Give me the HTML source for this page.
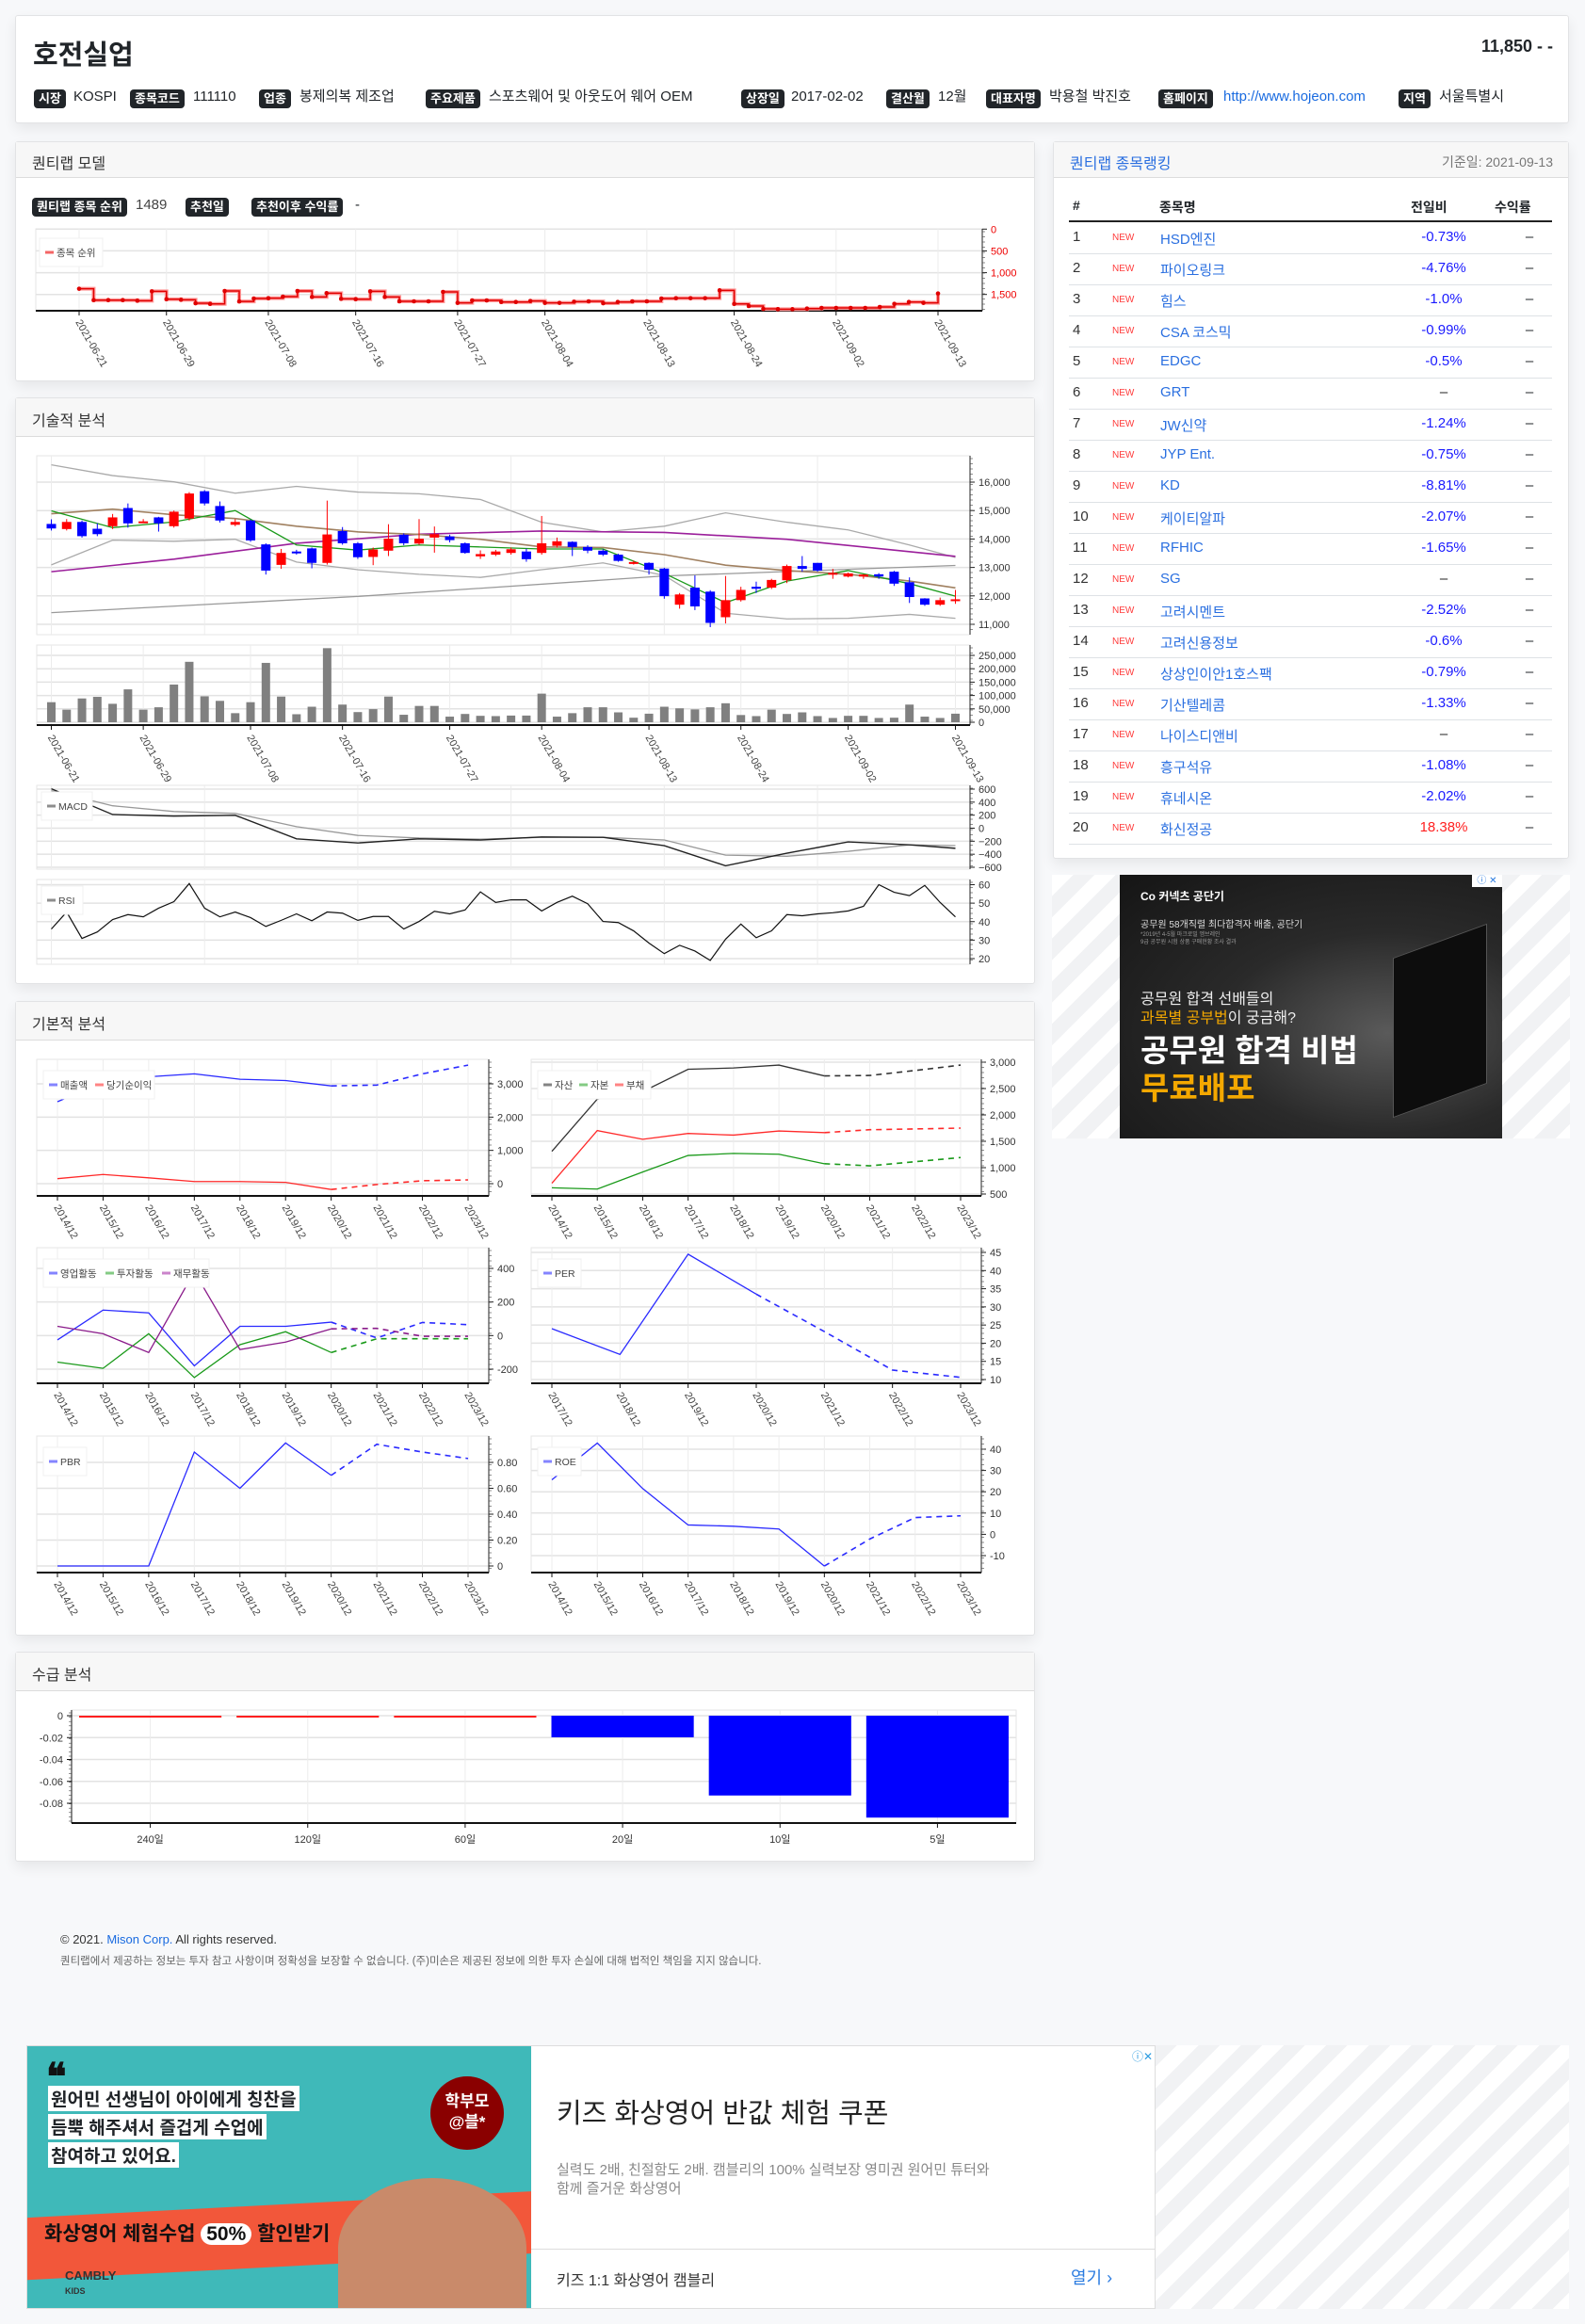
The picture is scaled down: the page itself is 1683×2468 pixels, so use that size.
<!DOCTYPE html>
<html lang="ko"><head><meta charset="utf-8"><title>호전실업</title>
<style>
*{box-sizing:border-box;margin:0;padding:0}
body{width:1683px;height:2468px;overflow:hidden;background:#f7f8fa;font-family:"Liberation Sans","Noto Sans CJK KR",sans-serif;color:#212529;position:relative}
.card{position:absolute;background:#fff;border:1px solid #e2e3e5;border-radius:3px;box-shadow:0 6px 14px rgba(0,0,0,.07)}
.chd{position:absolute;left:0;right:0;top:0;background:#f7f7f7;border-bottom:1px solid #dcdcdc}
.chd span{position:absolute;left:17px;font-size:16px;color:#333}
.ab{position:absolute;white-space:nowrap}
.bd{position:absolute;background:#212529;color:#fff;font-size:13px;font-weight:bold;padding:2px 5px;border-radius:4px;line-height:16px;white-space:nowrap}
.tx{position:absolute;font-size:15px;white-space:nowrap;line-height:20px}
.row{position:absolute;left:16px;right:17px;height:33px;border-bottom:1px solid #dee2e6;font-size:15px}
.row span{position:absolute;top:6px;white-space:nowrap}
.stripe{position:absolute;background:repeating-linear-gradient(135deg,#ffffff 0 16px,#f1f2f4 16px 32px)}
svg text{font-family:"Liberation Sans","Noto Sans CJK KR",sans-serif}
</style></head><body>

<div class="card" style="left:16px;top:16px;width:1650px;height:115px">
 <div class="ab" style="left:18px;top:18px;font-size:29px;font-weight:bold">호전실업</div>
 <div class="ab" style="right:16px;top:22px;font-size:18px;font-weight:bold">11,850 - -</div>
 <div class="bd" style="left:19px;top:78px">시장</div><div class="tx" style="left:61px;top:76px">KOSPI</div>
 <div class="bd" style="left:121px;top:78px">종목코드</div><div class="tx" style="left:188px;top:76px">111110</div>
 <div class="bd" style="left:258px;top:78px">업종</div><div class="tx" style="left:301px;top:76px">봉제의복 제조업</div>
 <div class="bd" style="left:435px;top:78px">주요제품</div><div class="tx" style="left:502px;top:76px">스포츠웨어 및 아웃도어 웨어 OEM</div>
 <div class="bd" style="left:770px;top:78px">상장일</div><div class="tx" style="left:823px;top:76px">2017-02-02</div>
 <div class="bd" style="left:924px;top:78px">결산월</div><div class="tx" style="left:979px;top:76px">12월</div>
 <div class="bd" style="left:1030px;top:78px">대표자명</div><div class="tx" style="left:1097px;top:76px">박용철 박진호</div>
 <div class="bd" style="left:1213px;top:78px">홈페이지</div><a class="tx" style="left:1282px;top:76px;color:#1a6be0;text-decoration:none">http://www.hojeon.com</a>
 <div class="bd" style="left:1468px;top:78px">지역</div><div class="tx" style="left:1511px;top:76px">서울특별시</div>
</div>

<div class="card" style="left:16px;top:150px;width:1083px;height:255px">
 <div class="chd" style="height:38px"><span style="top:9px">퀀티랩 모델</span></div>
 <div class="bd" style="left:17px;top:59px">퀀티랩 종목 순위</div><div class="tx" style="left:127px;top:57px;color:#444">1489</div>
 <div class="bd" style="left:180px;top:59px">추천일</div>
 <div class="bd" style="left:250px;top:59px">추천이후 수익률</div><div class="tx" style="left:360px;top:57px">-</div>
</div>

<div class="card" style="left:1118px;top:150px;width:548px;height:762px">
 <div class="chd" style="height:38px"><span style="top:9px;color:#2a6fe0">퀀티랩 종목랭킹</span><div class="ab" style="right:16px;top:11px;font-size:14px;color:#777">기준일: 2021-09-13</div></div>
 <div class="row" style="top:55px;height:30px;border-bottom:2px solid #222;font-weight:bold;font-size:14px">
  <span style="left:4px;top:4px">#</span><span style="left:96px;top:4px">종목명</span><span style="left:363px;top:4px">전일비</span><span style="left:452px;top:4px">수익률</span></div>
 <div id="rows"></div>
</div>

<div class="stripe" style="left:1117px;top:929px;width:550px;height:280px"></div>
<div class="ab" style="left:1189px;top:929px;width:406px;height:280px;background:radial-gradient(ellipse at 70% 60%,#5a5a5a 0,#2a2a2a 45%,#151515 100%);overflow:hidden">
 <div class="ab" style="left:290px;top:70px;width:100px;height:170px;background:#0d0d0d;transform:skewY(-20deg);border:1px solid #555"></div>
 <div class="ab" style="left:22px;top:14px;color:#fff;font-size:12px;font-weight:bold">Co 커넥츠 공단기</div>
 <div class="ab" style="left:22px;top:44px;color:#ddd;font-size:10px">공무원 58개직렬 최다합격자 배출, 공단기</div>
 <div class="ab" style="left:22px;top:60px;color:#999;font-size:6px;line-height:8px">*2019년 4-5월 마크로밀 엠브레인<br>9급 공무원 시험 상품 구매현황 조사 결과</div>
 <div class="ab" style="left:22px;top:118px;color:#eee;font-size:16px">공무원 합격 선배들의</div>
 <div class="ab" style="left:22px;top:138px;color:#eee;font-size:16px"><span style="color:#f4a800">과목별 공부법</span>이 궁금해?</div>
 <div class="ab" style="left:22px;top:160px;color:#fff;font-size:33px;font-weight:bold">공무원 합격 비법</div>
 <div class="ab" style="left:22px;top:200px;color:#f4a800;font-size:33px;font-weight:bold">무료배포</div>
 <div class="ab" style="right:0;top:0;width:32px;height:13px;background:#fff;color:#2a7be0;font-size:10px;text-align:center;line-height:13px">ⓘ ✕</div>
</div>

<div class="card" style="left:16px;top:422px;width:1083px;height:623px">
 <div class="chd" style="height:41px"><span style="top:10px">기술적 분석</span></div>
</div>
<div class="card" style="left:16px;top:1063px;width:1083px;height:674px">
 <div class="chd" style="height:41px"><span style="top:10px">기본적 분석</span></div>
</div>
<div class="card" style="left:16px;top:1754px;width:1083px;height:223px">
 <div class="chd" style="height:41px"><span style="top:10px">수급 분석</span></div>
</div>

<div class="ab" style="left:64px;top:2052px;font-size:13px;color:#333">© 2021. <a style="color:#1a6be0">Mison Corp.</a> All rights reserved.</div>
<div class="ab" style="left:64px;top:2074px;font-size:11.5px;color:#666">퀀티랩에서 제공하는 정보는 투자 참고 사항이며 정확성을 보장할 수 없습니다. (주)미손은 제공된 정보에 의한 투자 손실에 대해 법적인 책임을 지지 않습니다.</div>

<div class="stripe" style="left:28px;top:2172px;width:1638px;height:280px"></div>
<div class="ab" style="left:28px;top:2172px;width:1199px;height:280px;background:#fff;border:1px solid #ddd;overflow:hidden">
 <div class="ab" style="left:0;top:0;width:535px;height:280px;background:#3fb9b9;overflow:hidden">
  <div class="ab" style="left:20px;top:10px;font-size:40px;font-weight:bold;color:#111">❝</div>
  <div class="ab" style="left:22px;top:42px;background:#fff;font-size:19px;font-weight:bold;padding:0 3px">원어민 선생님이 아이에게 칭찬을</div>
  <div class="ab" style="left:22px;top:72px;background:#fff;font-size:19px;font-weight:bold;padding:0 3px">듬뿍 해주셔서 즐겁게 수업에</div>
  <div class="ab" style="left:22px;top:102px;background:#fff;font-size:19px;font-weight:bold;padding:0 3px">참여하고 있어요.</div>
  <div class="ab" style="left:428px;top:32px;width:78px;height:78px;border-radius:50%;background:#8a0000;color:#fff;font-size:17px;font-weight:bold;text-align:center;padding-top:16px;line-height:22px">학부모<br>@블*</div>
  <div class="ab" style="left:-10px;top:168px;width:560px;height:66px;background:#f2573a;transform:rotate(-3deg)"></div>
  <div class="ab" style="left:18px;top:183px;color:#111;font-size:21px;font-weight:bold">화상영어 체험수업 <span style="background:#fff;border-radius:20px;padding:0 6px">50%</span> 할인받기</div>
  <div class="ab" style="left:330px;top:140px;width:200px;height:150px;border-radius:50% 50% 0 0;background:#c98a6a"></div>
  <div class="ab" style="left:40px;top:236px;color:#333;font-size:13px;font-weight:bold">CAMBLY<br><span style="font-size:9px">KIDS</span></div>
 </div>
 <div class="ab" style="left:562px;top:48px;font-size:29px;color:#222">키즈 화상영어 반값 체험 쿠폰</div>
 <div class="ab" style="left:562px;top:122px;font-size:15px;color:#888;line-height:20px">실력도 2배, 친절함도 2배. 캠블리의 100% 실력보장 영미권 원어민 튜터와<br>함께 즐거운 화상영어</div>
 <div class="ab" style="left:535px;top:215px;width:664px;height:1px;background:#ddd"></div>
 <div class="ab" style="left:562px;top:235px;font-size:16px;color:#333">키즈 1:1 화상영어 캠블리</div>
 <div class="ab" style="left:1108px;top:232px;font-size:18px;color:#2a7be0">열기 ›</div>
 <div class="ab" style="right:2px;top:2px;font-size:12px;color:#2a9be0">ⓘ✕</div>
</div>

<svg id="charts" width="1683" height="2468" style="position:absolute;left:0;top:0;pointer-events:none"></svg>

<script>
// ---------- data ----------
const rankNames=['HSD엔진','파이오링크','힘스','CSA 코스믹','EDGC','GRT','JW신약','JYP Ent.','KD','케이티알파','RFHIC','SG','고려시멘트','고려신용정보','상상인이안1호스팩','기산텔레콤','나이스디앤비','흥구석유','휴네시온','화신정공'];
const rankChange=['-0.73%','-4.76%','-1.0%','-0.99%','-0.5%','–','-1.24%','-0.75%','-8.81%','-2.07%','-1.65%','–','-2.52%','-0.6%','-0.79%','-1.33%','–','-1.08%','-2.02%','18.38%'];

const dateLabels=['2021-06-21','2021-06-29','2021-07-08','2021-07-16','2021-07-27','2021-08-04','2021-08-13','2021-08-24','2021-09-02','2021-09-13'];
const dateIdx=[0,6,13,19,26,32,39,45,52,59];
const quantRank=[1370,1630,1630,1630,1644,1428,1608,1622,1702,1716,1420,1660,1593,1586,1550,1420,1557,1471,1601,1608,1428,1557,1658,1658,1658,1442,1694,1637,1637,1673,1673,1651,1694,1694,1666,1658,1702,1673,1658,1658,1593,1586,1586,1586,1406,1716,1766,1831,1838,1838,1824,1810,1810,1810,1810,1788,1716,1673,1694,1478];
const rankTicks=[0,500,1000,1500];

const candleOpen=[14530,14350,14600,14360,14450,15090,14600,14760,14450,14720,15680,15160,14500,14650,13810,13090,13560,13670,13160,14280,13850,13370,13590,14150,13840,14050,14090,13850,13390,13450,13510,13560,13510,13760,13900,13720,13590,13450,13150,13160,12960,11690,12290,12150,11250,11850,12320,12290,12550,13050,13160,12790,12680,12680,12760,12850,12480,11910,11690,11850];
const candleClose=[14370,14600,14100,14170,14760,14550,14620,14550,14960,15600,15250,14650,14600,13950,12890,13510,13510,13160,14160,13850,13360,13630,14010,13850,14010,14170,13960,13510,13470,13560,13640,13290,13850,13920,13720,13590,13450,13230,13190,12920,11990,12050,11630,11050,11850,12210,12250,12560,13050,12950,12890,12810,12790,12750,12680,12430,11960,11690,11850,11880];
const candleHigh=[14690,14700,14650,14550,14880,15250,14700,14780,15000,15650,15720,15320,14700,14680,13850,13650,13620,13700,15350,14420,13890,13700,14520,14200,14700,14440,14150,13880,13600,13620,13700,13660,14810,14050,13920,13780,13640,13480,13240,13180,12990,12100,12720,12200,12700,12320,12500,12600,13100,13400,13160,12950,12820,12760,12800,12880,12650,11920,11940,12210];
const candleLow=[14300,14300,14050,14100,14350,14400,14560,14260,14400,14650,15180,14580,14450,13900,12750,12950,13450,12970,13100,13800,13300,13080,13400,13780,13800,13520,13880,13480,13300,13400,13450,13200,13450,13700,13400,13500,13400,13200,13100,12750,11900,11550,11500,10900,11030,11800,12100,12240,12450,12850,12850,12600,12650,12600,12600,12350,11750,11650,11650,11720];
const priceTicks=[11000,12000,13000,14000,15000,16000];
const lineIdx=[0,4,8,12,16,20,24,28,32,36,40,44,48,52,56,59];
const ma5=[14990,14400,14600,15000,13790,13610,13790,13720,13650,13650,12790,11760,12520,12890,12430,11990];
const ma20=[14890,15050,14850,14720,14450,14250,14160,13990,13720,13700,13450,13080,12890,12760,12520,12280];
const bandUpper=[16610,16230,16010,15610,15850,15650,15590,15390,14590,14250,14450,14920,14590,14320,13790,13350];
const bandLower=[13090,13960,13920,13990,13190,12920,12760,12650,12920,13160,12720,11390,11190,11210,11350,11210];
const ma60Idx=[0,8,16,24,32,40,48,59];
const ma60=[12850,13290,13850,14170,14280,14230,13990,13390];
const ma120Idx=[0,20,40,59];
const ma120=[11410,11980,12700,13070];
const volume=[75000,47000,89000,95000,69000,123000,47000,56000,141000,226000,97000,80000,34000,75000,222000,96000,30000,58000,277000,66000,38000,49000,96000,28000,61000,61000,21000,31000,24000,23000,25000,25000,107000,21000,34000,56000,56000,37000,17000,32000,58000,52000,48000,56000,71000,27000,23000,47000,31000,37000,23000,16000,24000,24000,16000,17000,66000,21000,16000,32000];
const volTicks=[0,50000,100000,150000,200000,250000];
const macd=[606,210,186,198,-163,-227,-163,-181,-134,-140,-268,-577,-384,-210,-256,-309];
const macdSignal=[577,344,256,227,23,-111,-151,-169,-140,-140,-181,-414,-431,-355,-256,-268];
const macdTicks=[-600,-400,-200,0,200,400,600];
const rsi=[36.0,45.2,30.9,34.4,41.1,43.8,42.6,47.3,50.8,60.6,47.3,42.6,45.2,42.2,37.4,40.7,44.2,40.5,45.2,44.6,40.7,42.8,42.8,36.0,40.1,45.6,44.2,46.3,56.1,50.4,51.8,51.8,45.8,50.4,53.8,49.7,40.1,39.5,35.0,28.4,22.7,27.2,24.1,19.0,30.5,38.7,31.3,35.0,43.8,43.2,44.2,44.8,45.8,48.3,60.0,55.9,54.1,59.6,50.4,42.6];
const rsiTicks=[20,30,40,50,60];

const years10=['2014/12','2015/12','2016/12','2017/12','2018/12','2019/12','2020/12','2021/12','2022/12','2023/12'];
const years7=['2017/12','2018/12','2019/12','2020/12','2021/12','2022/12','2023/12'];
const revenue=[2463,3050,3213,3300,3138,3100,2938,2963,3300,3563];
const netIncome=[150,275,175,63,63,38,-175,-25,88,113];
const assets=[1310,2300,2442,2866,2890,2945,2740,2748,2843,2945];
const equity=[618,594,917,1231,1270,1255,1074,1035,1113,1192];
const debt=[704,1703,1538,1648,1617,1695,1664,1719,1734,1750];
const cfOperating=[-26,152,135,-180,55,55,80,-14,78,65];
const cfInvesting=[-158,-195,11,-250,-54,23,-101,-19,-19,-19];
const cfFinancing=[55,11,-101,380,-83,-39,40,43,-4,-4];
const per=[24.0,16.9,44.5,33.5,23.2,12.6,10.6];
const pbr=[0,0,0,0.88,0.60,0.95,0.70,0.94,0.88,0.83];
const roe=[25.6,42.9,21.5,4.4,3.8,2.5,-14.9,-2.2,7.9,8.7];

const supplyCats=['240일','120일','60일','20일','10일','5일'];
const supplyVals=[0,0,0,-0.0197,-0.0729,-0.0931];
const supplyTicks=[0,-0.02,-0.04,-0.06,-0.08];

// ---------- helpers ----------
const NS='http://www.w3.org/2000/svg';
const svg=document.getElementById('charts');
function mk(tag,attrs,parent){const e=document.createElementNS(NS,tag);for(const k in attrs)e.setAttribute(k,attrs[k]);(parent||svg).appendChild(e);return e;}
function lin(d0,d1,r0,r1){return v=>r0+(v-d0)*(r1-r0)/(d1-d0);}
function fmt(v){return v.toLocaleString('en-US');}
function frame(x0,y0,x1,y1,name){
  const r=mk('rect',{x:x0,y:y0,width:x1-x0,height:y1-y0,fill:'none',stroke:'#e6e6e6'});
  
  
}
function hgrid(x0,x1,y,name){
  const l=mk('line',{x1:x0,x2:x1,y1:y,y2:y,stroke:'#e3e3e3','stroke-width':1.5});
  
  
}
function vgrid(x,y0,y1,name){
  const l=mk('line',{x1:x,x2:x,y1:y0,y2:y1,stroke:'#ececec'});
  
  
}
function rightAxis(x,y0,y1,ticks,sy,labels,color,name){
  const a=mk('line',{x1:x,x2:x,y1:y0,y2:y1,stroke:'#222'});
  
  
  ticks.forEach((t,i)=>{
    const tk=mk('line',{x1:x,x2:x+5,y1:sy(t),y2:sy(t),stroke:'#222'});
    
    
    const tx=mk('text',{x:x+9,y:sy(t)+4,'font-size':11,fill:color||'#333'});
    tx.textContent=labels[i];
    
    
  });
  for(let y=y0+3;y<y1;y+=5.5){
    const m=mk('line',{x1:x,x2:x+3,y1:y,y2:y,stroke:'#444','stroke-width':0.6});
    
    
  }
}
function rotLabels(xs,labels,y,name){
  labels.forEach((lb,i)=>{
    const t=mk('text',{x:xs[i]-4,y:y,'font-size':11,fill:'#444',transform:`rotate(60 ${xs[i]-4} ${y})`});
    t.textContent=lb;
    
    
  });
}
function polyline(pts,color,width,dash,name){
  const p=mk('polyline',{points:pts.map(p=>p.join(',')).join(' '),fill:'none',stroke:color,'stroke-width':width||1.3,'stroke-dasharray':dash||'none'});
  
  
}
function legend(x,y,w,items,name){
  const g=mk('g',{});
  
  
  mk('rect',{x:x,y:y,width:w,height:30,fill:'#fff',stroke:'#f0f0f0'},g);
  let cx=x+6;
  items.forEach(it=>{
    mk('line',{x1:cx,x2:cx+9,y1:y+15,y2:y+15,stroke:it[1],'stroke-width':3,opacity:0.6},g);
    const t=mk('text',{x:cx+12,y:y+19,'font-size':10.5,fill:'#444'},g);
    t.textContent=it[0];
    cx+=16+it[0].length*(/[가-힣]/.test(it[0])?11:7.5);
  });
}

// ---------- ranking rows ----------
const rows=document.getElementById('rows');
rankNames.forEach((n,i)=>{
  const r=document.createElement('div');
  r.className='row';
  r.style.top=(86+33*i)+'px';
  
  
  const col=rankChange[i].startsWith('-')?'#1a1aff':(rankChange[i]==='–'?'#222':'#ff2020');
  r.innerHTML=`<span style="left:4px;color:#333">${i+1}</span><span style="left:46px;top:10px;font-size:10px;color:#ff3b3b">NEW</span><span style="left:97px;color:#2a6fe0">${n}</span><span style="left:398px;transform:translateX(-50%);color:${col}">${rankChange[i]}</span><span style="left:489px;transform:translateX(-50%)">–</span>`;
  rows.appendChild(r);
});

// ---------- quantilab rank chart ----------
(function(){
  const x0=38,x1=1043,y0=243,y1=330;
  const sx=lin(0,59,84,996), sy=lin(0,1500,243.3,312.7);
  frame(x0,y0,x1,y1,'rank-chart-frame');
  rankTicks.forEach(t=>hgrid(x0,x1,sy(t),'rank-gridline'));
  dateIdx.forEach(i=>vgrid(sx(i),y0,y1,'rank-date-gridline'));
  const ax=mk('line',{x1:x0,x2:x1,y1:y1,y2:y1,stroke:'#111','stroke-width':2});
  
  
  dateIdx.forEach(i=>{const t=mk('line',{x1:sx(i),x2:sx(i),y1:y1,y2:y1+5,stroke:'#111'});});
  rightAxis(x1,y0,y1,rankTicks,sy,rankTicks.map(fmt),'#e00','rank-y-axis');
  const pts=[];
  quantRank.forEach((v,i)=>{if(i>0)pts.push([sx(i),sy(quantRank[i-1])]);pts.push([sx(i),sy(v)]);});
  polyline(pts,'#ff9a9a',4,null,'rank-step-shadow');
  polyline(pts,'#e00000',1.5,null,'rank-step-line');
  quantRank.forEach((v,i)=>{
    const c=mk('circle',{cx:sx(i),cy:sy(v),r:2.3,fill:'#e00000'});
    
    
  });
  legend(42,253,67,[['종목 순위','#e00']],'rank-legend');
  rotLabels(dateIdx.map(sx),dateLabels,y1+12,'rank-date-label');
})();

// ---------- technical analysis ----------
(function(){
  const x0=39,x1=1030;
  const sx=lin(0,59,54.5,1014.5);
  const py0=484,py1=674, sy=lin(16000,11000,512,663);
  frame(x0,py0,x1,py1,'price-chart-frame');
  priceTicks.forEach(t=>hgrid(x0,x1,sy(t),'price-gridline'));
  [0,10,20,30,40,50].forEach(i=>vgrid(sx(i),py0,py1,'price-vgridline'));
  rightAxis(x1,py0,py1,priceTicks,sy,priceTicks.map(fmt),'#333','price-y-axis');
  polyline(lineIdx.map((d,k)=>[sx(d),sy(bandUpper[k])]),'#aaa',1.3,null,'bollinger-upper');
  polyline(lineIdx.map((d,k)=>[sx(d),sy(bandLower[k])]),'#aaa',1.3,null,'bollinger-lower');
  polyline(ma120Idx.map((d,k)=>[sx(d),sy(ma120[k])]),'#999',1.3,null,'ma120-line');
  polyline(ma60Idx.map((d,k)=>[sx(d),sy(ma60[k])]),'#9b1f9b',1.6,null,'ma60-line');
  polyline(lineIdx.map((d,k)=>[sx(d),sy(ma20[k])]),'#a08060',1.6,null,'ma20-line');
  polyline(lineIdx.map((d,k)=>[sx(d),sy(ma5[k])]),'#1a9a1a',1.3,null,'ma5-line');
  candleOpen.forEach((o,i)=>{
    const c=candleClose[i], up=c>=o, col=up?'#ff0000':'#0000ff';
    const w=mk('line',{x1:sx(i),x2:sx(i),y1:sy(candleHigh[i]),y2:sy(candleLow[i]),stroke:col,'stroke-width':1});
    
    
    const top=sy(Math.max(o,c)), h=Math.max(2,sy(Math.min(o,c))-top);
    const b=mk('rect',{x:sx(i)-5,y:top,width:10,height:h,fill:col});
    
    
  });
  const vy0=685,vy1=770, svy=lin(0,250000,767,696);
  frame(x0,vy0,x1,vy1,'volume-chart-frame');
  volTicks.forEach(t=>hgrid(x0,x1,svy(t),'volume-gridline'));
  dateIdx.forEach(i=>vgrid(sx(i),vy0,vy1,'volume-vgridline'));
  rightAxis(x1,vy0,vy1,volTicks,svy,volTicks.map(fmt),'#333','volume-y-axis');
  volume.forEach((v,i)=>{
    const b=mk('rect',{x:sx(i)-4.5,y:svy(v),width:9,height:svy(0)-svy(v),fill:'#808080'});
    
    
  });
  const vax=mk('line',{x1:x0,x2:x1,y1:vy1,y2:vy1,stroke:'#111','stroke-width':2});
  
  
  dateIdx.forEach(i=>{const t=mk('line',{x1:sx(i),x2:sx(i),y1:vy1,y2:vy1+5,stroke:'#111'});});
  rotLabels(dateIdx.map(sx),dateLabels,vy1+13,'tech-date-label');
  const my0=834,my1=923, smy=lin(600,-600,838,921);
  frame(x0,my0,x1,my1,'macd-chart-frame');
  macdTicks.forEach(t=>hgrid(x0,x1,smy(t),'macd-gridline'));
  [0,10,20,30,40,50].forEach(i=>vgrid(sx(i),my0,my1,'macd-vgridline'));
  rightAxis(x1,my0,my1,macdTicks,smy,macdTicks.map(v=>v<0?'−'+(-v):String(v)),'#333','macd-y-axis');
  polyline(lineIdx.map((d,k)=>[sx(d),smy(macdSignal[k])]),'#999',1.3,null,'macd-signal-line');
  polyline(lineIdx.map((d,k)=>[sx(d),smy(macd[k])]),'#222',1.4,null,'macd-line');
  legend(44,841,54,[['MACD','#444']],'macd-legend');
  const ry0=934,ry1=1024, sry=lin(60,20,939.5,1018);
  frame(x0,ry0,x1,ry1,'rsi-chart-frame');
  rsiTicks.forEach(t=>hgrid(x0,x1,sry(t),'rsi-gridline'));
  [0,10,20,30,40,50].forEach(i=>vgrid(sx(i),ry0,ry1,'rsi-vgridline'));
  rightAxis(x1,ry0,ry1,rsiTicks,sry,rsiTicks.map(String),'#333','rsi-y-axis');
  polyline(rsi.map((v,i)=>[sx(i),sry(v)]),'#111',1.2,null,'rsi-line');
  legend(44,941,44,[['RSI','#444']],'rsi-legend');
})();

// ---------- fundamental charts ----------
function fundChart(box,cats,dom,rng,ticks,labels,series,split,leg,legW,name){
  const [x0,y0,x1,y1]=box;
  const sx=lin(0,cats.length-1,x0+22,x1-22), sy=lin(dom[0],dom[1],rng[0],rng[1]);
  frame(x0,y0,x1,y1,name+'-frame');
  ticks.forEach(t=>hgrid(x0,x1,sy(t),name+'-gridline'));
  cats.forEach((c,i)=>vgrid(sx(i),y0,y1,name+'-vgridline'));
  const ax=mk('line',{x1:x0,x2:x1,y1:y1,y2:y1,stroke:'#111','stroke-width':2});
  
  
  cats.forEach((c,i)=>{const t=mk('line',{x1:sx(i),x2:sx(i),y1:y1,y2:y1+5,stroke:'#111'});});
  rightAxis(x1,y0,y1,ticks,sy,labels,'#333',name+'-y-axis');
  series.forEach(s=>{
    const pts=s[0].map((v,i)=>[sx(i),sy(v)]);
    polyline(pts.slice(0,split+1),s[1],1.3,null,name+'-'+s[2]+'-solid');
    polyline(pts.slice(split),s[1],1.6,'6,5',name+'-'+s[2]+'-forecast');
  });
  legend(x0+7,y0+12,legW,leg,name+'-legend');
  rotLabels(cats.map((c,i)=>sx(i)),cats,y1+12,name+'-x-label');
}
fundChart([39,1125,519,1270],years10,[0,3000],[1257,1151],[0,1000,2000,3000],['0','1,000','2,000','3,000'],
  [[revenue,'#2a2aff','revenue'],[netIncome,'#ff2a2a','net-income']],6,[['매출액','#33f'],['당기순이익','#f33']],118,'revenue-chart');
fundChart([564,1125,1042,1270],years10,[500,3000],[1268,1128],[500,1000,1500,2000,2500,3000],['500','1,000','1,500','2,000','2,500','3,000'],
  [[assets,'#333','assets'],[equity,'#1a9a1a','equity'],[debt,'#ff2a2a','debt']],6,[['자산','#333'],['자본','#3a3'],['부채','#f33']],120,'balance-chart');
fundChart([39,1325,519,1469],years10,[400,-200],[1347,1454],[-200,0,200,400],['-200','0','200','400'],
  [[cfOperating,'#2a2aff','operating'],[cfInvesting,'#1a9a1a','investing'],[cfFinancing,'#8a1a8a','financing']],6,[['영업활동','#33f'],['투자활동','#3a3'],['재무활동','#a3a']],176,'cashflow-chart');
fundChart([564,1325,1042,1469],years7,[45,10],[1330,1465],[10,15,20,25,30,35,40,45],['10','15','20','25','30','35','40','45'],
  [[per,'#2a2aff','per']],3,[['PER','#33f']],46,'per-chart');
fundChart([39,1525,519,1670],years10,[0,0.8],[1663,1553],[0,0.2,0.4,0.6,0.8],['0','0.20','0.40','0.60','0.80'],
  [[pbr,'#2a2aff','pbr']],6,[['PBR','#33f']],46,'pbr-chart');
fundChart([564,1525,1042,1670],years10,[40,-10],[1539,1652],[-10,0,10,20,30,40],['-10','0','10','20','30','40'],
  [[roe,'#2a2aff','roe']],6,[['ROE','#33f']],46,'roe-chart');

// ---------- supply chart ----------
(function(){
  const x0=76,x1=1079,y0=1816,y1=1936;
  const sy=lin(0,-0.08,1822,1915);
  const bw=(x1-x0)/supplyCats.length;
  const sx=i=>x0+bw*(i+0.5);
  frame(x0,y0,x1,y1,'supply-chart-frame');
  supplyTicks.forEach(t=>hgrid(x0,x1,sy(t),'supply-gridline'));
  supplyCats.forEach((c,i)=>vgrid(sx(i),y0,y1,'supply-vgridline'));
  const ax=mk('line',{x1:x0,x2:x1,y1:y1,y2:y1,stroke:'#111','stroke-width':2});
  
  
  const ay=mk('line',{x1:x0,x2:x0,y1:y0,y2:y1,stroke:'#111'});
  
  
  supplyTicks.forEach(t=>{
    const tk=mk('line',{x1:x0-5,x2:x0,y1:sy(t),y2:sy(t),stroke:'#111'});
    
    
    const tx=mk('text',{x:x0-9,y:sy(t)+4,'font-size':11,fill:'#333','text-anchor':'end'});
    tx.textContent=t===0?'0':t.toFixed(2);
    
    
  });
  for(let y=y0+3;y<y1;y+=4.6){const m=mk('line',{x1:x0-3,x2:x0,y1:y,y2:y,stroke:'#444','stroke-width':0.6});}
  supplyVals.forEach((v,i)=>{
    const top=Math.min(sy(0),sy(v)), h=Math.max(2,Math.abs(sy(v)-sy(0)));
    const b=mk('rect',{x:sx(i)-bw/2+8,y:top,width:bw-16,height:h,fill:v<0?'#0000ff':'#ff2020'});
    
    
    const tk=mk('line',{x1:sx(i),x2:sx(i),y1:y1,y2:y1+5,stroke:'#111'});
    
    
    const t=mk('text',{x:sx(i),y:1957,'font-size':11,fill:'#333','text-anchor':'middle'});
    t.textContent=supplyCats[i];
    
    
  });
})();
</script>
</body></html>
